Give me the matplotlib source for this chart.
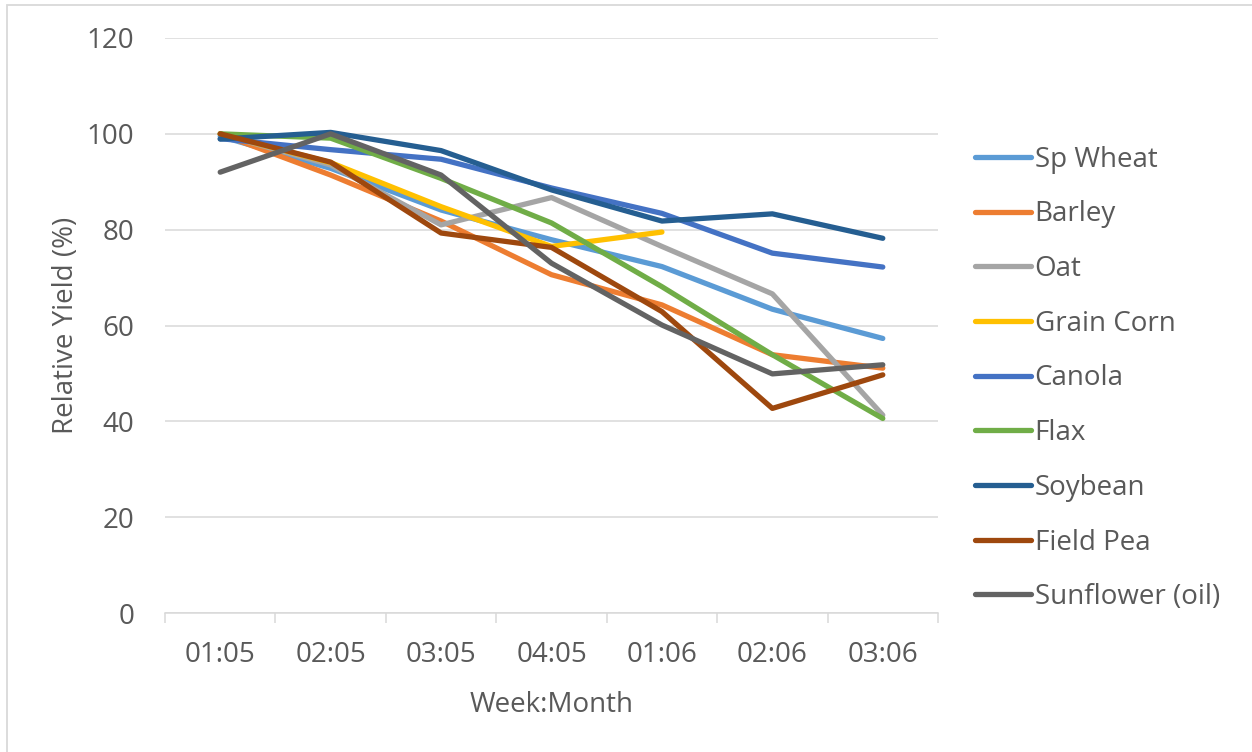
import matplotlib
matplotlib.use("Agg")
import matplotlib.pyplot as plt
import matplotlib.patches as patches
import numpy as np

plt.rcParams['font.family'] = ['Open Sans', 'DejaVu Sans']

# Data
weeks = ["01:05", "02:05", "03:05", "04:05", "01:06", "02:06", "03:06"]
sp_wheat = [99.5, 92.8, 84.1, 77.9, 72.3, 63.4, 57.3]
barley = [100, 91.4, 81.8, 70.6, 64.3, 53.9, 51.1]
oat = [100, 93.5, 81.0, 86.7, 76.5, 66.6, 41.3]
grain_corn = [100, 94.0, 84.8, 76.5, 79.5, np.nan, np.nan]
canola = [99.0, 96.7, 94.7, 88.7, 83.4, 75.1, 72.2]
flax = [100, 99.1, 90.7, 81.4, 68.1, 53.9, 40.6]
soybean = [98.9, 100.3, 96.5, 88.3, 81.8, 83.3, 78.2]
field_pea = [100, 94.1, 79.3, 76.3, 62.9, 42.7, 49.7]
sunflower = [92.0, 100, 91.4, 73.0, 60.1, 49.9, 51.8]

series_names = ["Sp Wheat", "Barley", "Oat", "Grain Corn", "Canola", "Flax",
                "Soybean", "Field Pea", "Sunflower (oil)"]
series_values = [sp_wheat, barley, oat, grain_corn, canola, flax,
                 soybean, field_pea, sunflower]
colors = ["#5B9BD5", "#ED7D31", "#A5A5A5", "#FFC000", "#4472C4", "#70AD47",
          "#255E91", "#9E480E", "#636363"]

text_color = "#595959"
grid_color = "#D9D9D9"

fig = plt.figure(figsize=(12.52, 7.52), dpi=100)
ax = fig.add_axes([165 / 1252, 1 - 613 / 752, (938 - 165) / 1252, (613 - 38) / 752])

x = np.arange(len(weeks))
for name, vals, c in zip(series_names, series_values, colors):
    ax.plot(x, vals, color=c, lw=3.8, label=name,
            solid_capstyle='round', solid_joinstyle='round')

ax.set_xlim(-0.5, len(weeks) - 0.5)
ax.set_ylim(0, 120)
ax.set_yticks(range(0, 121, 20))
ax.yaxis.grid(True, color=grid_color, lw=1.1)
ax.set_axisbelow(True)

# categories centred, tick marks on the boundaries
ax.set_xticks(x)
ax.set_xticklabels(weeks)
ax.set_xticks(np.arange(-0.5, len(weeks)), minor=True)
ax.tick_params(axis='x', which='major', length=0, pad=20, labelsize=20, labelcolor=text_color)
ax.tick_params(axis='x', which='minor', length=7, width=1.1, color=grid_color, direction='out')
ax.tick_params(axis='y', length=0, pad=22, labelsize=20, labelcolor=text_color)

for side in ['top', 'right', 'left']:
    ax.spines[side].set_visible(False)
ax.spines['bottom'].set_color(grid_color)
ax.spines['bottom'].set_linewidth(1.1)

ax.set_xlabel("Week:Month", fontsize=20, color=text_color, labelpad=16)
ax.set_ylabel("Relative Yield (%)", fontsize=20, color=text_color, labelpad=5)

fig.legend(loc='center left', bbox_to_anchor=(975 / 1252, 1 - 378.5 / 752),
           frameon=False, fontsize=20, labelcolor=text_color, handlelength=2.0,
           handletextpad=0.15, labelspacing=0.96, borderpad=0, borderaxespad=0)

# chart area border (only left and top edge are inside the picture)
border = patches.Rectangle((7 / 1252, -0.1), 1.2, 1 - 5 / 752 + 0.1, fill=False,
                           edgecolor=grid_color, lw=1.3, transform=fig.transFigure)
fig.add_artist(border)

fig.savefig("out.png", dpi=100)
